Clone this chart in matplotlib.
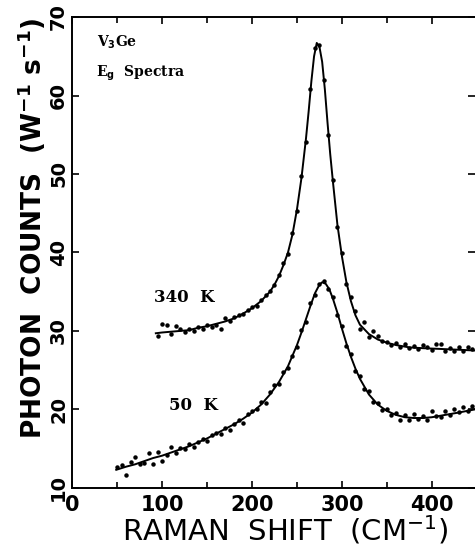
import matplotlib
matplotlib.use("Agg")
import matplotlib.pyplot as plt
from matplotlib.ticker import MultipleLocator

# ---- fitted curves ----
fit340_x = [93, 100, 110, 120, 130, 140, 150, 160, 170, 180, 190, 200, 210, 220, 225,
            230, 235, 240, 245, 250, 255, 260, 263, 266, 269, 272, 275, 278, 281, 284,
            287, 290, 295, 300, 305, 310, 315, 320, 330, 340, 350, 360, 375, 390, 410,
            430, 448]
fit340_y = [29.7, 29.8, 29.9, 30.0, 30.1, 30.4, 30.6, 30.9, 31.2, 31.6, 32.2, 32.9, 33.8,
            35.0, 35.9, 37.0, 38.4, 40.0, 42.3, 45.5, 49.5, 54.5, 58.0, 61.8, 65.0, 66.7,
            66.2, 64.3, 60.8, 56.5, 52.5, 49.0, 43.5, 39.5, 36.2, 33.8, 32.0, 30.8, 29.6,
            28.9, 28.5, 28.2, 27.9, 27.8, 27.7, 27.6, 27.5]

fit50_x = [49, 60, 70, 80, 90, 100, 110, 120, 130, 140, 150, 160, 170, 180, 190, 200,
           210, 220, 230, 240, 250, 255, 260, 265, 270, 275, 278, 282, 286, 290, 295,
           300, 305, 310, 315, 320, 330, 340, 350, 360, 370, 380, 390, 400, 410, 420,
           430, 448]
fit50_y = [12.3, 12.7, 13.0, 13.4, 13.8, 14.1, 14.5, 14.9, 15.3, 15.8, 16.3, 16.9, 17.5,
           18.1, 18.8, 19.6, 20.6, 21.9, 23.5, 25.5, 28.2, 29.8, 31.5, 33.2, 34.8, 35.9,
           36.2, 36.0, 35.3, 34.1, 32.3, 30.3, 28.4, 26.7, 25.2, 23.9, 21.9, 20.6, 19.8,
           19.3, 19.0, 18.9, 18.9, 19.0, 19.2, 19.4, 19.6, 20.0]

# ---- measured points ----
pts340_x = [95, 100, 105, 110, 115, 120, 125, 130, 135, 140, 145, 150, 155, 160, 165,
            170, 175, 180, 185, 190, 195, 200, 205, 210, 215, 220, 225, 230, 235, 240,
            245, 250, 255, 260, 265, 270, 275, 280, 285, 290, 295, 300, 305, 310, 315,
            320, 325, 330, 335, 340, 345, 350, 355, 360, 365, 370, 375, 380, 385, 390,
            395, 400, 405, 410, 415, 420, 425, 430, 435, 440, 445]
pts340_y = [29.4, 30.9, 30.7, 29.6, 30.6, 30.2, 29.8, 30.3, 30.0, 30.5, 30.2, 30.7, 30.5,
            30.7, 30.2, 31.6, 31.3, 31.8, 32.0, 32.1, 32.7, 33.0, 33.2, 33.9, 34.6, 35.1,
            35.8, 37.1, 38.6, 39.8, 42.5, 45.3, 49.8, 54.1, 60.8, 66.1, 66.5, 62.0, 55.0,
            49.2, 43.2, 39.9, 36.0, 34.3, 32.5, 30.3, 31.2, 29.2, 30.0, 29.3, 28.7, 28.6,
            28.2, 28.4, 28.0, 28.3, 27.8, 28.1, 27.7, 28.2, 28.0, 27.6, 28.3, 28.3, 27.5,
            27.8, 27.4, 27.9, 27.4, 28.0, 27.7]

pts50_x = [50, 55, 60, 65, 70, 75, 80, 85, 90, 95, 100, 105, 110, 115, 120, 125, 130,
           135, 140, 145, 150, 155, 160, 165, 170, 175, 180, 185, 190, 195, 200, 205,
           210, 215, 220, 225, 230, 235, 240, 245, 250, 255, 260, 265, 270, 275, 280,
           285, 290, 295, 300, 305, 310, 315, 320, 325, 330, 335, 340, 345, 350, 355,
           360, 365, 370, 375, 380, 385, 390, 395, 400, 405, 410, 415, 420, 425, 430,
           435, 440, 445]
pts50_y = [12.6, 12.9, 11.7, 13.3, 13.9, 13.0, 13.2, 14.4, 13.1, 14.6, 13.4, 14.2, 15.2,
           14.5, 15.1, 14.9, 15.6, 15.2, 15.9, 16.2, 16.0, 16.7, 17.0, 16.8, 17.6, 17.4,
           18.2, 18.6, 18.3, 19.4, 19.8, 20.0, 20.9, 20.8, 22.2, 23.1, 23.2, 24.8, 25.3,
           26.8, 28.0, 30.1, 31.2, 33.5, 34.6, 36.0, 36.4, 35.4, 34.3, 32.0, 30.6, 28.1,
           27.0, 24.9, 24.2, 22.6, 22.3, 21.0, 20.8, 19.9, 20.1, 19.3, 19.6, 18.7, 19.3,
           18.6, 19.4, 18.8, 19.2, 18.7, 19.8, 19.1, 19.0, 19.8, 19.3, 20.0, 19.7, 20.3,
           19.8, 20.4]

x_ticks = [0, 100, 200, 300, 400]
y_ticks = [10, 20, 30, 40, 50, 60, 70]

fig = plt.figure(figsize=(4.75, 5.5), dpi=100)
ax = fig.add_axes([0.152, 0.113, 0.848, 0.856])

ax.plot(fit340_x, fit340_y, color="black", lw=1.4)
ax.plot(fit50_x, fit50_y, color="black", lw=1.4)
ax.plot(pts340_x, pts340_y, "o", color="black", ms=2.2)
ax.plot(pts50_x, pts50_y, "o", color="black", ms=2.2)

ax.set_xlim(0, 448)
ax.set_ylim(10, 70)
ax.set_xticks(x_ticks)
ax.set_yticks(y_ticks)
ax.xaxis.set_minor_locator(MultipleLocator(50))
ax.tick_params(which="both", direction="in", top=True, right=True, width=1.2)
ax.tick_params(which="major", length=5)
ax.tick_params(which="minor", length=4)
ax.tick_params(axis="x", labelsize=15, pad=5)
ax.tick_params(axis="y", labelsize=14, pad=3)
for lab in ax.get_xticklabels():
    lab.set_fontweight("bold")
for lab in ax.get_yticklabels():
    lab.set_fontweight("bold")
    lab.set_rotation(90)
    lab.set_va("center")
ax.spines["right"].set_visible(False)
for s in ["left", "bottom", "top"]:
    ax.spines[s].set_linewidth(1.4)

fig.text(0.066, 0.585, r"PHOTON  COUNTS  (W$^{\mathbf{-1}}$ s$^{\mathbf{-1}}$)",
         rotation=90, ha="center", va="center", fontsize=19, fontweight="bold")
fig.text(0.60, 0.037, r"RAMAN  SHIFT  (CM$^{-1}$)", ha="center", va="center",
         fontsize=21)

serif = dict(family="DejaVu Serif", fontweight="bold", color="black")
ax.text(28, 66.2, r"V$_\mathbf{3}$Ge", fontsize=10, **serif)
ax.text(27, 62.4, r"E$_\mathbf{g}$  Spectra", fontsize=10, **serif)
ax.text(91, 33.7, "340  K", fontsize=12, **serif)
ax.text(108, 19.9, "50  K", fontsize=12, **serif)

fig.savefig("out.png", dpi=100)
